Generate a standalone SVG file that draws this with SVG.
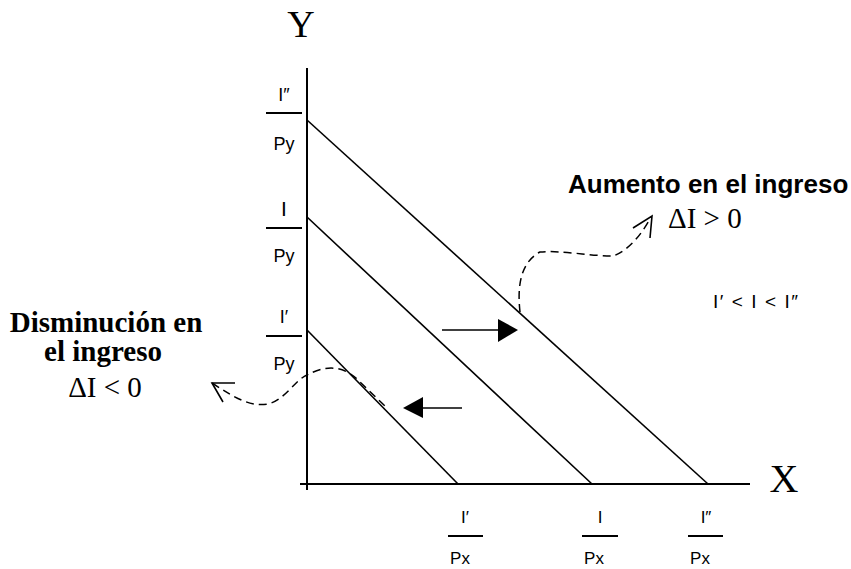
<svg xmlns="http://www.w3.org/2000/svg" width="851" height="569" viewBox="0 0 851 569">
<style>
.ax{stroke:#000;stroke-width:2;fill:none}
.ln{stroke:#000;stroke-width:1.6;fill:none}
.bar{stroke:#000;stroke-width:2}
.dash{stroke:#000;stroke-width:1.5;fill:none;stroke-dasharray:8 5}
.sans{font-family:"Liberation Sans",Arial,sans-serif;fill:#000}
.serif{font-family:"Liberation Serif","Times New Roman",serif;fill:#000}
.lbl{font-size:18px;text-anchor:middle}
</style>
<rect width="851" height="569" fill="#fff"/>
<g id="axes">
<line class="ax" x1="307" y1="68" x2="307" y2="490"/>
<line class="ax" x1="300" y1="484" x2="750" y2="484"/>
<text class="serif" x="301" y="37" font-size="38" text-anchor="middle">Y</text>
<text class="serif" x="784" y="492" font-size="40" text-anchor="middle">X</text>
</g>
<g id="budget-lines">
<line class="ln" x1="307" y1="120" x2="708" y2="484"/>
<line class="ln" x1="307" y1="217" x2="592" y2="484"/>
<line class="ln" x1="307" y1="330" x2="458" y2="484"/>
</g>
<g id="y-labels" class="sans lbl">
<text x="284" y="101">I″</text>
<line class="bar" x1="266" y1="113" x2="302" y2="113"/>
<text x="284" y="150">Py</text>
<text x="284" y="216" font-size="21">I</text>
<line class="bar" x1="266" y1="228" x2="302" y2="228"/>
<text x="284" y="262">Py</text>
<text x="284" y="323">I′</text>
<line class="bar" x1="266" y1="336" x2="302" y2="336"/>
<text x="284" y="370">Py</text>
</g>
<g id="x-labels" class="sans lbl">
<text x="465" y="523" font-size="17">I′</text>
<line class="bar" x1="448" y1="536" x2="483" y2="536"/>
<text x="460" y="564" font-size="17">Px</text>
<text x="600" y="523" font-size="17">I</text>
<line class="bar" x1="582" y1="536" x2="618" y2="536"/>
<text x="594" y="564" font-size="17">Px</text>
<text x="706" y="523" font-size="17">I″</text>
<line class="bar" x1="688" y1="536" x2="723" y2="536"/>
<text x="700" y="564" font-size="17">Px</text>
</g>
<g id="connectors">
<line class="ln" x1="442" y1="330" x2="499" y2="330"/>
<polygon points="498,319 518,330 498,342" fill="#000"/>
<line class="ln" x1="422" y1="408" x2="462" y2="408"/>
<polygon points="423,397 403,408 423,418" fill="#000"/>
<path class="dash" d="M520,312 C517,285 521,262 540,252 C560,250 590,256 613,256 C630,250 643,232 651,217"/>
<path class="ln" d="M633,228 L652,216 L650,238"/>
<path class="dash" d="M212,383 C235,398 250,407 268,404 C285,400 295,380 307,375 C320,368 340,362 358,380 L386,407"/>
<path class="ln" d="M235,383 L212,383 L223,402"/>
</g>
<g id="increase-label">
<text class="sans" x="568" y="193" font-size="26" font-weight="bold">Aumento en el ingreso</text>
<text class="serif" x="668" y="228" font-size="29">ΔI &gt; 0</text>
</g>
<g id="decrease-label" class="serif" text-anchor="middle">
<text x="106" y="332" font-size="29" font-weight="bold">Disminución en</text>
<text x="103" y="361" font-size="29" font-weight="bold">el ingreso</text>
<text x="105" y="397" font-size="29">ΔI &lt; 0</text>
</g>
<g id="order-label">
<text class="sans" x="713" y="308" font-size="19" textLength="85" lengthAdjust="spacing">I′ &lt; I &lt; I″</text>
</g>
</svg>
